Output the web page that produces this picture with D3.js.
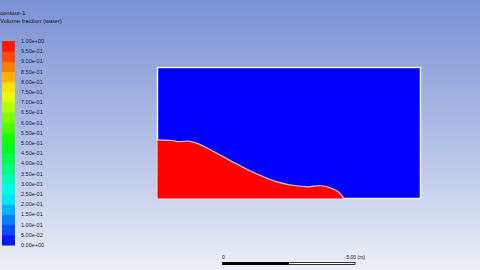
<!DOCTYPE html>
<html>
<head>
<meta charset="utf-8">
<script src="https://cdn.jsdelivr.net/npm/d3@7"></script>
<style>
  html, body { margin: 0; padding: 0; overflow: hidden; }
  text { font-family: "Liberation Sans", Arial, sans-serif; }
</style>
</head>
<body>
<svg id="chart" width="480" height="270"></svg>
<script>
// interface (free surface) of the water column, metres
const surfX = [0, 0.60, 0.79, 1.17, 1.49, 2.25, 3.01, 3.77, 4.53, 5.29, 5.67, 6.18, 6.62, 6.87, 7.04, 7.09];
const surfY = [2.23, 2.21, 2.17, 2.19, 2.11, 1.73, 1.32, 0.94, 0.64, 0.48, 0.45, 0.49, 0.39, 0.26, 0.07, 0];

// colour bar levels
const levels = [0, 0.05, 0.1, 0.15, 0.2, 0.25, 0.3, 0.35, 0.4, 0.45, 0.5,
                0.55, 0.6, 0.65, 0.7, 0.75, 0.8, 0.85, 0.9, 0.95, 1.0];
const levelLabels = ["0.00e+00", "5.00e-02", "1.00e-01", "1.50e-01", "2.00e-01", "2.50e-01",
                     "3.00e-01", "3.50e-01", "4.00e-01", "4.50e-01", "5.00e-01", "5.50e-01",
                     "6.00e-01", "6.50e-01", "7.00e-01", "7.50e-01", "8.00e-01", "8.50e-01",
                     "9.00e-01", "9.50e-01", "1.00e+00"];

const domainW = 10, domainH = 5;
const scaleBarLen = 5;

const svg = d3.select("#chart");
const width = 480, height = 270;

// background gradient
const defs = svg.append("defs");
const grad = defs.append("linearGradient")
    .attr("id", "bg").attr("x1", 0).attr("y1", 0).attr("x2", 0).attr("y2", 1);
grad.append("stop").attr("offset", "0%").attr("stop-color", "#7a92d6");
grad.append("stop").attr("offset", "55%").attr("stop-color", "#b4c2e6");
grad.append("stop").attr("offset", "100%").attr("stop-color", "#eef0f7");
svg.append("rect").attr("width", width).attr("height", height).attr("fill", "url(#bg)");

// rainbow map like Fluent
const colour = v => d3.hsl(240 * (1 - v), 1, 0.5).toString();

// colour bar
const cb = d3.scaleLinear().domain([0, 1]).range([245, 41]);
const bar = svg.append("g");
bar.selectAll("rect")
    .data(d3.pairs(levels))
    .enter().append("rect")
    .attr("x", 2)
    .attr("width", 13)
    .attr("y", d => cb(d[1]))
    .attr("height", d => cb(d[0]) - cb(d[1]) + 0.5)
    .attr("fill", d => colour((d[0] + d[1]) / 2));
bar.selectAll("text")
    .data(levels)
    .enter().append("text")
    .attr("x", 21)
    .attr("y", d => cb(d) + 2)
    .attr("font-size", 5.5)
    .attr("fill", "#1a1a40")
    .text((d, i) => levelLabels[i]);

// title
svg.append("text").attr("x", 0).attr("y", 15).attr("font-size", 6).attr("fill", "#111")
    .text("contour-1");
svg.append("text").attr("x", 0).attr("y", 23).attr("font-size", 6).attr("fill", "#111")
    .text("Volume fraction (water)");

// domain
const x = d3.scaleLinear().domain([0, domainW]).range([157.5, 420.5]);
const y = d3.scaleLinear().domain([0, domainH]).range([198.5, 67.5]);

svg.append("rect")
    .attr("x", x(0)).attr("y", y(domainH))
    .attr("width", x(domainW) - x(0)).attr("height", y(0) - y(domainH))
    .attr("fill", colour(0))
    .attr("stroke", "#f4f6fb").attr("stroke-width", 1.5);

const pts = surfX.map((d, i) => [d, surfY[i]]);
const area = d3.area()
    .x(d => x(d[0])).y0(y(0)).y1(d => y(d[1]))
    .curve(d3.curveMonotoneX);
svg.append("path").datum(pts).attr("d", area).attr("fill", colour(1));

const line = d3.line().x(d => x(d[0])).y(d => y(d[1])).curve(d3.curveMonotoneX);
svg.append("path").datum(pts).attr("d", line)
    .attr("fill", "none").attr("stroke", "#c9b7a6").attr("stroke-width", 1.4);

// scale bar
const sb = d3.scaleLinear().domain([0, scaleBarLen]).range([222, 355]);
svg.append("rect").attr("x", sb(0)).attr("y", 262).attr("width", sb(scaleBarLen / 2) - sb(0))
    .attr("height", 3).attr("fill", "#000");
svg.append("rect").attr("x", sb(scaleBarLen / 2)).attr("y", 262.5)
    .attr("width", sb(scaleBarLen) - sb(scaleBarLen / 2)).attr("height", 2)
    .attr("fill", "#fff").attr("stroke", "#000").attr("stroke-width", 0.8);
svg.append("text").attr("x", sb(0)).attr("y", 259).attr("font-size", 5).attr("fill", "#111").text("0");
svg.append("text").attr("x", sb(scaleBarLen) + 10).attr("y", 259).attr("font-size", 5)
    .attr("text-anchor", "end").attr("fill", "#111").text("5.00 (m)");
</script>
</body>
</html>
